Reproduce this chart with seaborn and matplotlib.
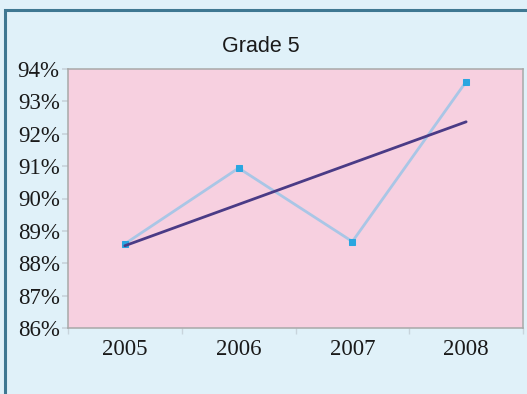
import matplotlib
matplotlib.use("Agg")
import matplotlib.pyplot as plt
from matplotlib.lines import Line2D
from matplotlib.ticker import PercentFormatter, FixedLocator
import seaborn as sns
import numpy as np

# Grade 5 proficiency by year
years = [2005, 2006, 2007, 2008]
rates = [88.6, 90.94, 88.67, 93.61]
year_labels = ["2005", "2006", "2007", "2008"]
title = "Grade 5"

sns.set_theme(style="white")
plt.rcParams["font.family"] = ["Liberation Serif", "DejaVu Serif"]

fig = plt.figure(figsize=(5.27, 3.94), dpi=100)
fig.patch.set_facecolor("#e0f1f9")

# outer chart frame: top and left edges
W, H = 527, 394
fx, fy = 5 / W, (H - 10) / H
fig.add_artist(Line2D([fx, fx, 1.0], [0.0, fy, fy], transform=fig.transFigure,
                      color="#3f7892", linewidth=2.2, solid_joinstyle="miter"))

ax = fig.add_axes([68 / W, (H - 328) / H, (523 - 68) / W, (328 - 69) / H])
ax.set_facecolor("#f7d0e0")

sns.lineplot(x=years, y=rates, ax=ax, color="#a9c6e6", linewidth=2,
             marker="s", markersize=3.8, markerfacecolor="#2aa6e0",
             markeredgecolor="#2aa6e0", zorder=3)
sns.regplot(x=years, y=rates, ax=ax, ci=None, scatter=False, truncate=True,
            line_kws=dict(color="#4a3b86", linewidth=2, zorder=4))

ax.set_xlim(2004.5, 2008.5)
ax.set_ylim(86, 94)
ax.set_yticks(np.arange(86, 95, 1))
ax.yaxis.set_major_formatter(PercentFormatter(decimals=0))
ax.set_xticks(years)
ax.set_xticklabels(year_labels)
ax.xaxis.set_minor_locator(FixedLocator([2004.5, 2005.5, 2006.5, 2007.5, 2008.5]))
ax.set_xlabel("")
ax.set_ylabel("")

ax.tick_params(axis="x", which="major", length=0, pad=8, labelsize=16.5,
               labelcolor="#1a1a1a")
ax.tick_params(axis="x", which="minor", length=4, color="#c8d4dc", bottom=True)
ax.tick_params(axis="y", which="major", length=4, color="#c8d4dc", left=True,
               pad=2, labelsize=16.5, labelcolor="#1a1a1a")

for side in ["top", "left", "bottom", "right"]:
    ax.spines[side].set_visible(True)
    ax.spines[side].set_color("#a8a8a8")
    ax.spines[side].set_linewidth(1.1)

fig.text(0.495, (H - 46) / H, title, ha="center", va="center",
         fontsize=15.5, family=["Liberation Sans", "DejaVu Sans"], color="#1a1a1a")

fig.savefig("out.png", dpi=100, facecolor=fig.get_facecolor())
